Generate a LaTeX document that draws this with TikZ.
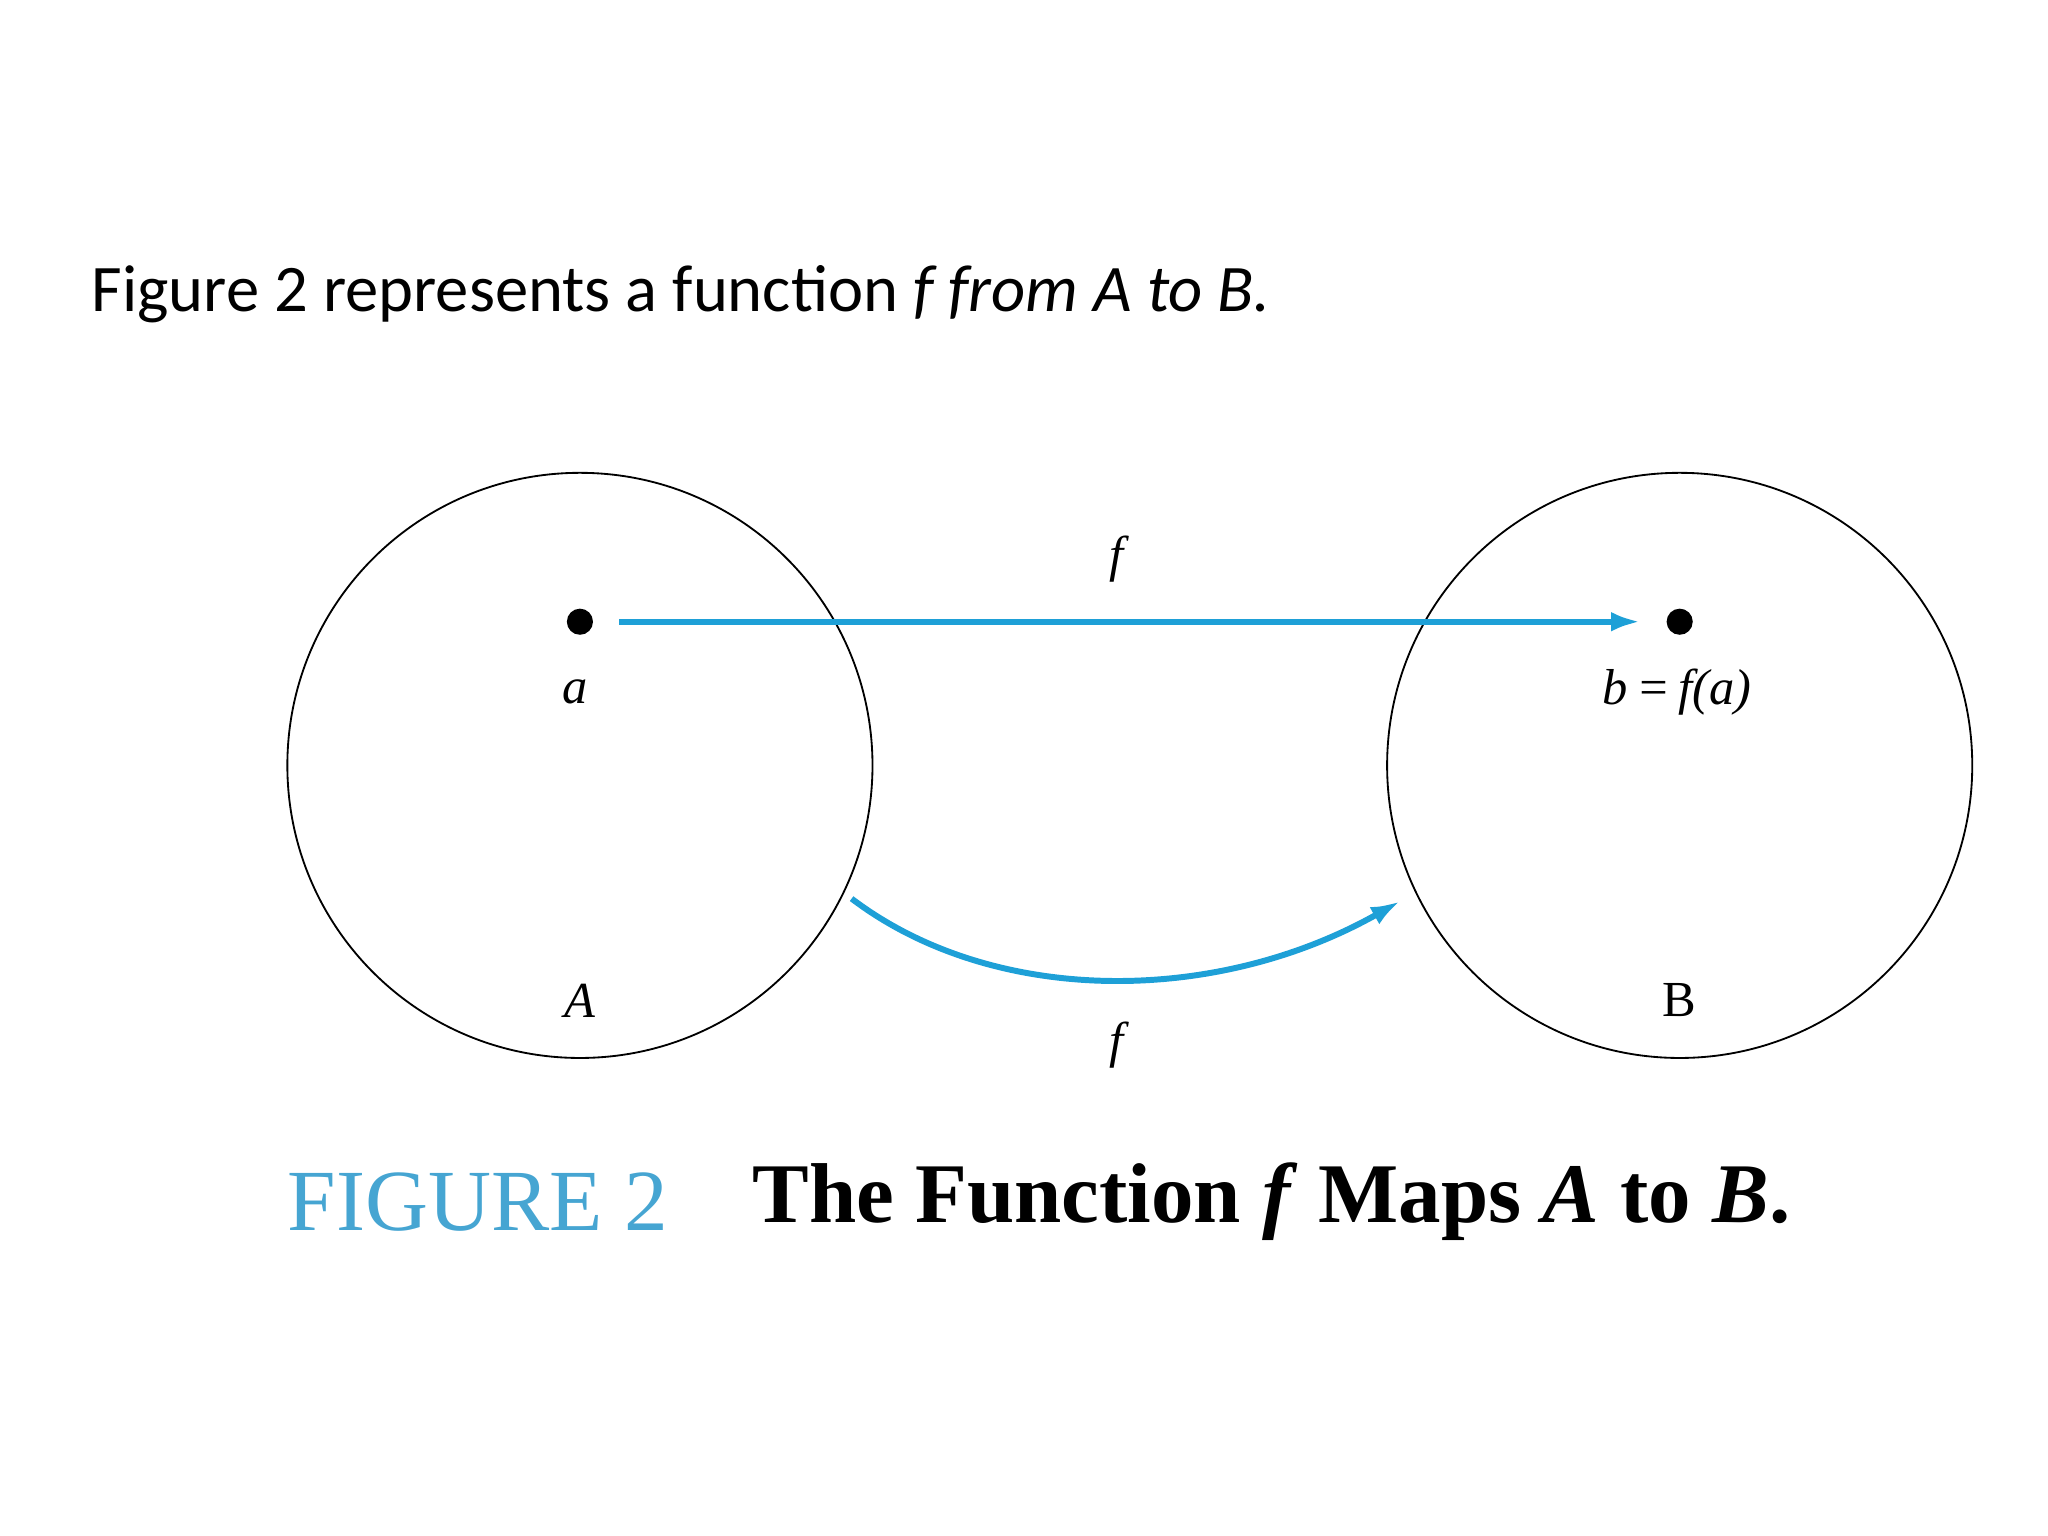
\documentclass[tikz,border=0pt]{standalone}
\usepackage{fontspec}
\setmainfont{Liberation Serif}
\newfontfamily\calib{Carlito}
\usetikzlibrary{arrows.meta}
\definecolor{fblue}{RGB}{30,160,215}
\definecolor{capblue}{RGB}{70,165,210}
\begin{document}
\begin{tikzpicture}[x=0.02cm,y=-0.02cm,
  setc/.style={draw,circle,minimum size=448*0.02cm,inner sep=0pt,line width=0.8pt},
  pt/.style={circle,fill=black,minimum size=0.4cm,inner sep=0pt},
  lab/.style={font=\fontsize{22}{24}\selectfont\itshape},
  arr/.style={fblue,line width=2.6pt,-{Latex[length=0.45cm,width=0.3cm]}}]
\useasboundingbox (0,0) rectangle (1568,1176);
\node[anchor=west,font=\calib\fontsize{29}{32}\selectfont] (title) at (64,225) {Figure 2 represents a function \textit{f from A to B.}};
\node[setc] (A) at (444,586) {};
\node[setc] (B) at (1286,586) {};
\node[pt] (a) at (444,476) {};
\node[pt] (b) at (1286,476) {};
\node[lab] (la) at (440,530) {a};
\node[lab] (lb) at (1284,530) {b\,=\,f(a)};
\node[lab] (f1) at (855,428) {f};
\node[lab] (lA) at (444,766) {A};
\node[font=\fontsize{22}{24}\selectfont] (lB) at (1286,766) {B};
\node[lab] (f2) at (855,800) {f};
\coordinate (s1) at (474,476);
\coordinate (e1) at (1256,476);
\draw[arr] (s1) -- (e1);
\coordinate (s2) at (652,688);
\coordinate (e2) at (1072,690);
\draw[arr] (s2) .. controls (760,770) and (930,770) .. (e2);
\node[anchor=west,font=\fontsize{38}{42}\selectfont,text=capblue] (cap1) at (214,920) {FIGURE 2};
\node[anchor=west,font=\bfseries\fontsize{37}{42}\selectfont] (cap2) at (570,920) {The Function \textit{f} Maps \textit{A} to \textit{B}.};
\end{tikzpicture}
\end{document}
